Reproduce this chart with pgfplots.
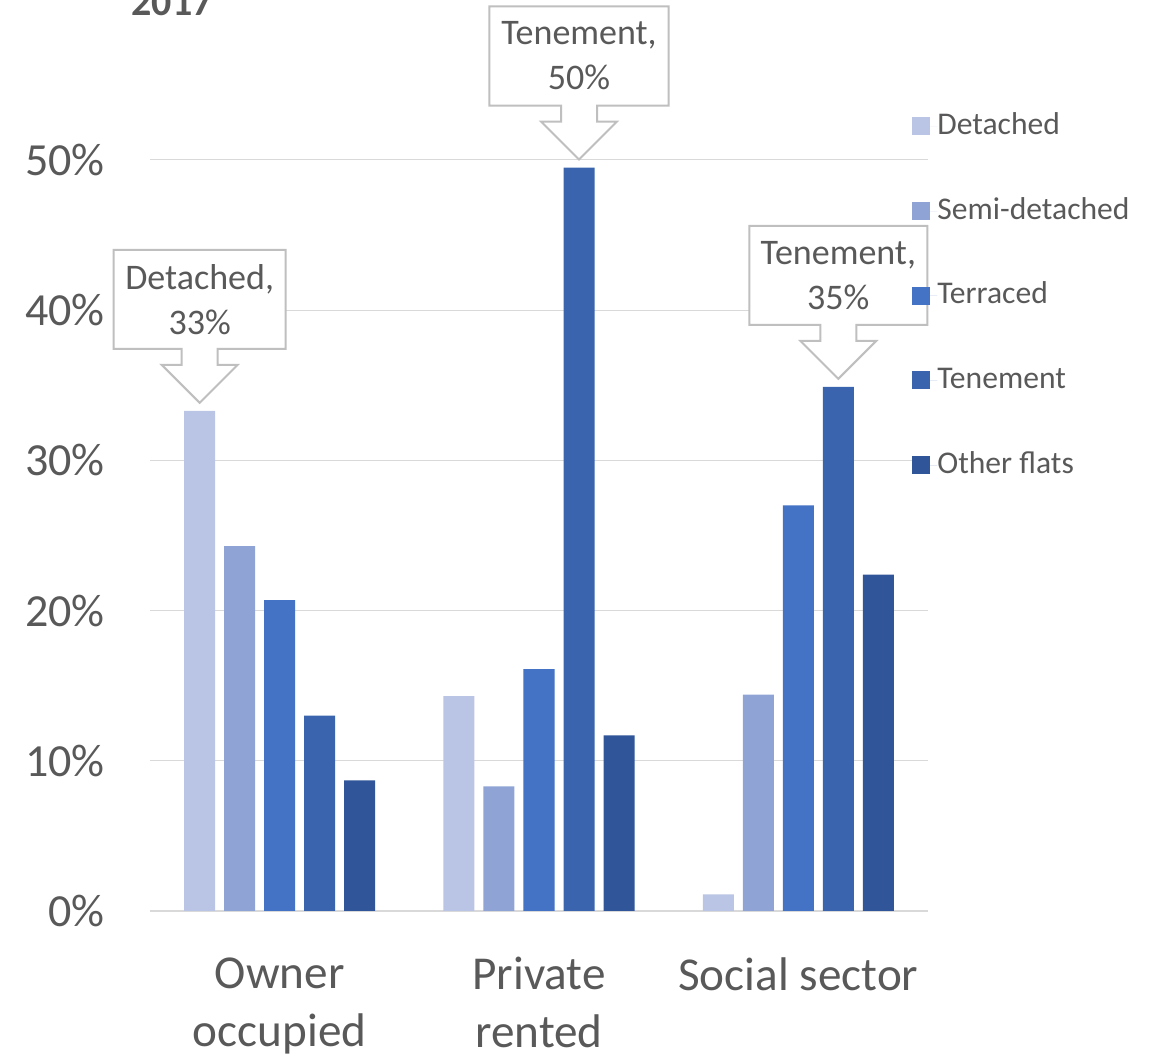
\documentclass[border=0pt]{standalone}
\usepackage{pgfplots}
\pgfplotsset{compat=1.18}
\usepackage{fontspec}
\setmainfont{Carlito}

\definecolor{txtgray}{HTML}{595959}
\definecolor{gridgray}{HTML}{D9D9D9}
\definecolor{boxgray}{HTML}{BFBFBF}
\definecolor{cDet}{HTML}{BAC4E4}
\definecolor{cSemi}{HTML}{8FA4D4}
\definecolor{cTer}{HTML}{4472C4}
\definecolor{cTen}{HTML}{3A65AE}
\definecolor{cOth}{HTML}{305598}

% down-arrow callout above a bar: x, y, bar offset, half width, text
\newcommand{\callout}[5]{%
  \draw[boxgray, line width=1pt, fill=white, shift={(axis cs:#1,#2)}, xshift=#3]
    (0pt,4pt) -- (-19pt,23pt) -- (-9pt,23pt) -- (-9pt,31pt) -- (-#4,31pt)
    -- (-#4,80.5pt) -- (#4,80.5pt) -- (#4,31pt) -- (9pt,31pt) -- (9pt,23pt)
    -- (19pt,23pt) -- cycle;
  \node[text=txtgray, align=center, font=\fontsize{18}{22.5}\selectfont,
    shift={(axis cs:#1,#2)}, xshift=#3, yshift=55.75pt] at (0pt,0pt) {#5};
}

\begin{document}
\begin{tikzpicture}
\useasboundingbox (-75pt,-73.5pt) rectangle (501pt,455.5pt);
\begin{axis}[
  scale only axis,
  width=389pt, height=375.5pt,
  ybar=4.5pt, bar width=15.5pt,
  xmin=-0.5, xmax=2.5, ymin=0, ymax=50,
  clip=false,
  xtick={0,1,2},
  xticklabels={{Owner\\occupied},{Private\\rented},{Social sector}},
  ytick={0,10,20,30,40,50},
  yticklabel={\pgfmathprintnumber[assume math mode=true]{\tick}\%},
  ymajorgrids,
  major grid style={draw=gridgray, line width=0.5pt},
  axis x line*=bottom, axis y line*=left,
  x axis line style={draw=gridgray, line width=1pt},
  y axis line style={draw=none},
  tick style={draw=none}, major tick length=0pt,
  yticklabel style={text=txtgray, font=\fontsize{23}{28}\selectfont, anchor=east, inner sep=0pt, xshift=-22.5pt},
  xticklabel style={text=txtgray, font=\fontsize{23.6}{29}\selectfont, align=center, anchor=north, inner sep=0pt, yshift=-23pt},
  legend image code/.code={\path[#1, draw=none] (0pt,-4.5pt) rectangle (9pt,4.5pt); \path (0pt,0pt) -- (12.5pt,0pt);},
  legend style={at={(rel axis cs:0.9794,1.064)}, anchor=north west, draw=none, fill=none,
    font=\fontsize{15.8}{19}\selectfont, text=txtgray, inner sep=0pt, row sep=28.35pt,
    nodes={inner sep=0pt, text height=11pt, text depth=3pt}},
  legend cell align=left,
]
\addplot[fill=cDet, draw=none] coordinates {(0,33.3) (1,14.3) (2,1.1)};
\addplot[fill=cSemi, draw=none] coordinates {(0,24.3) (1,8.3) (2,14.4)};
\addplot[fill=cTer, draw=none] coordinates {(0,20.7) (1,16.1) (2,27.0)};
\addplot[fill=cTen, draw=none] coordinates {(0,13.0) (1,49.5) (2,34.9)};
\addplot[fill=cOth, draw=none] coordinates {(0,8.7) (1,11.7) (2,22.4)};
\legend{Detached, Semi-detached, Terraced, Tenement, Other flats}

\callout{0}{33.3}{-40pt}{43pt}{Detached,\\33\%}
\callout{1}{49.5}{20pt}{44.75pt}{Tenement,\\50\%}
\callout{2}{34.9}{20pt}{44.5pt}{Tenement,\\35\%}
\end{axis}
\node[anchor=base, text=txtgray, font=\bfseries\fontsize{20}{24}\selectfont] at (11pt,447.5pt) {2017};
\end{tikzpicture}
\end{document}
